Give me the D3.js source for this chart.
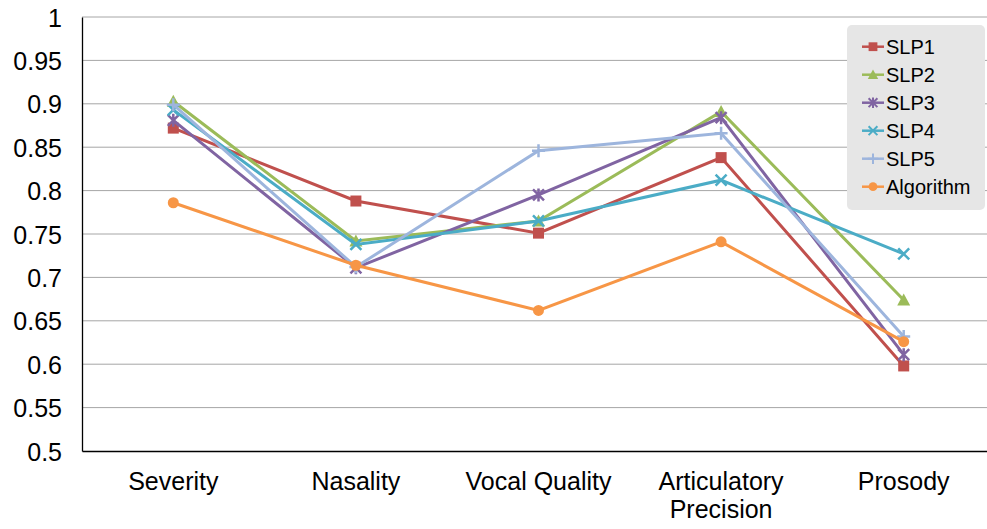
<!DOCTYPE html>
<html>
  <head>
    <meta charset="utf-8">
    <title></title>
    <style>
      body {
        margin: 0;
        background: #fff;
        font-family: "Liberation Sans", Arial, sans-serif;
      }
      svg {
        display: block;
      }
      .grid line {
        stroke: #a6a6a6;
        stroke-width: 1;
      }
      .axis text {
        font-size: 25px;
        fill: #000;
      }
      .legend text {
        font-size: 20px;
        fill: #000;
      }
    </style>
  </head>
  <body>
    <div class="chart"></div>
    <script src="https://cdn.jsdelivr.net/npm/d3@7"></script>
    <script>

      let categories = ['Severity', 'Nasality', 'Vocal Quality', 'Articulatory Precision', 'Prosody'];
      let yTicks = [0.5, 0.55, 0.6, 0.65, 0.7, 0.75, 0.8, 0.85, 0.9, 0.95, 1];

      let seriesNames = ['SLP1', 'SLP2', 'SLP3', 'SLP4', 'SLP5', 'Algorithm'];
      let slp1 = [0.872, 0.788, 0.751, 0.838, 0.598];
      let slp2 = [0.903, 0.742, 0.765, 0.891, 0.674];
      let slp3 = [0.881, 0.711, 0.795, 0.884, 0.611];
      let slp4 = [0.893, 0.738, 0.765, 0.812, 0.727];
      let slp5 = [0.899, 0.712, 0.846, 0.866, 0.632];
      let algorithm = [0.786, 0.714, 0.662, 0.741, 0.626];

      let colors = ['#c0504d', '#9bbb59', '#8064a2', '#4bacc6', '#9db5dd', '#f79646'];
      let shapes = ['square', 'triangle', 'star', 'x', 'plus', 'circle'];

      let series = seriesNames.map((name, i) => ({
        name: name,
        values: [slp1, slp2, slp3, slp4, slp5, algorithm][i],
        color: colors[i],
        shape: shapes[i]
      }));

      let elWidth = 987, elHeight = 529;
      let margin = {top: 17, right: -8, bottom: 78, left: 82};
      let width = elWidth - margin.left - margin.right;
      let height = elHeight - margin.top - margin.bottom;

      let svg = d3.select('.chart').append('svg')
        .attr('width', elWidth)
        .attr('height', elHeight);

      let g = svg.append('g').attr('transform', 'translate(' + margin.left + ',' + margin.top + ')');

      let x = d3.scaleBand().domain(categories).range([0, width]);
      let y = d3.scaleLinear().domain([0.5, 1]).range([height, 0]);
      let cx = d => x(d) + x.bandwidth() / 2;

      // gridlines
      g.append('g')
        .attr('class', 'grid')
        .selectAll('line')
        .data(yTicks.slice(1))
        .join('line')
        .attr('x1', 0)
        .attr('x2', width)
        .attr('y1', d => y(d))
        .attr('y2', d => y(d));

      // y axis
      let yAxis = g.append('g')
        .attr('class', 'axis')
        .call(d3.axisLeft(y).tickValues(yTicks).tickFormat(d3.format('')).tickSize(0).tickPadding(20));
      yAxis.select('.domain').attr('stroke', '#000').attr('stroke-width', 1.3);
      yAxis.selectAll('text').attr('dy', '0.36em');

      // x axis
      let xAxis = g.append('g')
        .attr('class', 'axis')
        .attr('transform', 'translate(0,' + height + ')')
        .call(d3.axisBottom(x).tickSize(0).tickPadding(21));
      xAxis.select('.domain').attr('stroke', '#000').attr('stroke-width', 1.3);
      xAxis.selectAll('.tick text')
        .text(null)
        .each(function(d) {
          let words = d === 'Articulatory Precision' ? ['Articulatory', 'Precision'] : [d];
          let t = d3.select(this);
          words.forEach((w, i) => {
            t.append('tspan').attr('x', 0).attr('dy', i === 0 ? '0.71em' : '1.12em').text(w);
          });
        });

      function drawMarker(sel, shape, color) {
        let s = 5.5;
        if (shape === 'square') {
          sel.append('rect').attr('x', -s).attr('y', -s).attr('width', 2 * s).attr('height', 2 * s).attr('fill', color);
        } else if (shape === 'triangle') {
          sel.append('path').attr('d', 'M0,-6.5L6.5,5.5L-6.5,5.5Z').attr('fill', color);
        } else if (shape === 'circle') {
          sel.append('circle').attr('r', 5.5).attr('fill', color);
        } else if (shape === 'x') {
          sel.append('path').attr('d', 'M-5.5,-5.5L5.5,5.5M-5.5,5.5L5.5,-5.5').attr('stroke', color).attr('stroke-width', 2.5);
        } else if (shape === 'star') {
          sel.append('path').attr('d', 'M-5.5,-5.5L5.5,5.5M-5.5,5.5L5.5,-5.5M0,-6.5V6.5').attr('stroke', color).attr('stroke-width', 2.5);
        } else if (shape === 'plus') {
          sel.append('path').attr('d', 'M-6.5,0H6.5M0,-6.5V6.5').attr('stroke', color).attr('stroke-width', 2.5);
        }
      }

      let line = d3.line()
        .x((d, i) => cx(categories[i]))
        .y(d => y(d));

      series.forEach(s => {
        g.append('path')
          .datum(s.values)
          .attr('fill', 'none')
          .attr('stroke', s.color)
          .attr('stroke-width', 3)
          .attr('d', line);

        s.values.forEach((v, i) => {
          let m = g.append('g').attr('transform', 'translate(' + cx(categories[i]) + ',' + y(v) + ')');
          drawMarker(m, s.shape, s.color);
        });
      });

      // legend
      let legend = svg.append('g').attr('class', 'legend').attr('transform', 'translate(847,25)');
      legend.append('rect')
        .attr('width', 138)
        .attr('height', 185)
        .attr('rx', 5)
        .attr('fill', '#e6e6e6');

      series.forEach((s, i) => {
        let row = legend.append('g').attr('transform', 'translate(0,' + (21.7 + i * 28) + ')');
        row.append('line')
          .attr('x1', 15).attr('x2', 37)
          .attr('stroke', s.color).attr('stroke-width', 2.5);
        let m = row.append('g').attr('transform', 'translate(26,0) scale(0.8)');
        drawMarker(m, s.shape, s.color);
        row.append('text')
          .attr('x', 39)
          .attr('dy', '0.36em')
          .text(s.name);
      });

    </script>
  </body>
</html>
